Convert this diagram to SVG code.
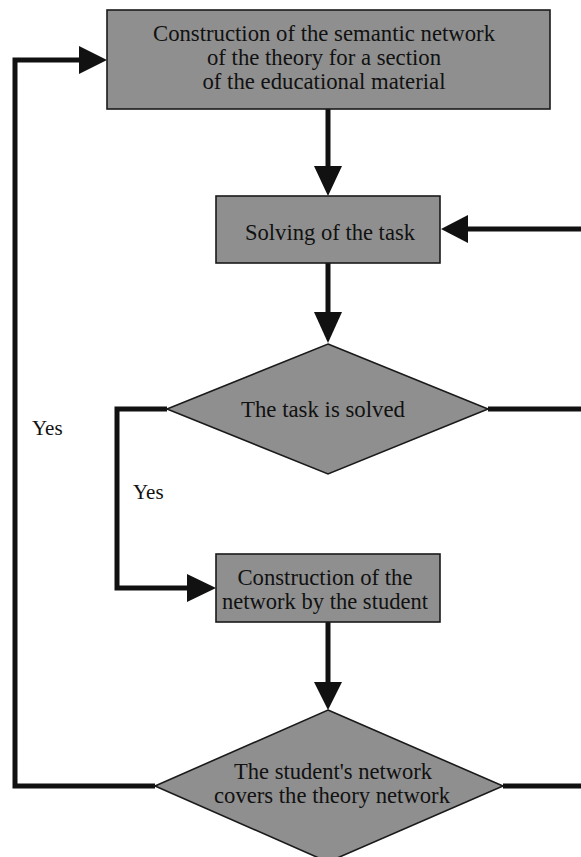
<svg xmlns="http://www.w3.org/2000/svg" width="581" height="857" viewBox="0 0 581 857">
  <style>
    .box { fill: #8f8f8f; stroke: #1a1a1a; stroke-width: 1.6; }
    .label { font-family: "Liberation Serif", "Times New Roman", serif; font-size: 23.5px; fill: #111; text-anchor: middle; }
    .yes { font-family: "Liberation Serif", "Times New Roman", serif; font-size: 21px; fill: #111; }
    .wire { fill: none; stroke: #111; stroke-width: 5; stroke-linejoin: miter; }
    .head { fill: #111; }
  </style>
  <rect width="581" height="857" fill="#ffffff"/>

  <!-- connectors -->
  <g id="connectors">
    <!-- theory construction -> solving -->
    <line class="wire" x1="328" y1="109" x2="328" y2="170"/>
    <polygon class="head" points="314,166 342,166 328,196"/>
    <!-- solving -> decision -->
    <line class="wire" x1="328" y1="263" x2="328" y2="316"/>
    <polygon class="head" points="314,312 342,312 328,343"/>
    <!-- loop back into solving from the right -->
    <polyline class="wire" points="581,229 464,229"/>
    <polygon class="head" points="468,215 468,243 441,229"/>
    <line class="wire" x1="488" y1="409" x2="581" y2="409"/>
    <!-- solved -> student construction -->
    <polyline class="wire" points="167,409 117,409 117,588 192,588"/>
    <polygon class="head" points="187,574 187,602 216,588"/>
    <!-- student construction -> coverage check -->
    <line class="wire" x1="328" y1="622" x2="328" y2="686"/>
    <polygon class="head" points="314,682 342,682 328,710"/>
    <!-- covered -> next section (back to top) -->
    <polyline class="wire" points="155,786 15,786 15,60 82,60"/>
    <polygon class="head" points="79,46 79,74 107,60"/>
    <line class="wire" x1="503" y1="786" x2="581" y2="786"/>
  </g>

  <g id="node-theory">
    <rect class="box" x="107" y="10" width="443" height="99"/>
    <text class="label" x="324" y="41" textLength="342" lengthAdjust="spacingAndGlyphs">Construction of the semantic network</text>
    <text class="label" x="324" y="65" textLength="234" lengthAdjust="spacingAndGlyphs">of the theory for a section</text>
    <text class="label" x="324" y="89" textLength="243" lengthAdjust="spacingAndGlyphs">of the educational material</text>
  </g>

  <g id="node-solving">
    <rect class="box" x="216" y="196" width="224" height="67"/>
    <text class="label" x="330" y="240" textLength="170" lengthAdjust="spacingAndGlyphs">Solving of the task</text>
  </g>

  <g id="node-solved">
    <polygon class="box" points="328,344 488,409 328,474 167,409"/>
    <text class="label" x="323" y="417" textLength="164" lengthAdjust="spacingAndGlyphs">The task is solved</text>
  </g>

  <g id="node-student">
    <rect class="box" x="216" y="554" width="224" height="68"/>
    <text class="label" x="325" y="585" textLength="175" lengthAdjust="spacingAndGlyphs">Construction of the</text>
    <text class="label" x="325" y="609" textLength="206" lengthAdjust="spacingAndGlyphs">network by the student</text>
  </g>

  <g id="node-covers">
    <polygon class="box" points="328,710 503,786 328,862 155,786"/>
    <text class="label" x="333" y="779" textLength="198" lengthAdjust="spacingAndGlyphs">The student's network</text>
    <text class="label" x="332" y="803" textLength="236" lengthAdjust="spacingAndGlyphs">covers the theory network</text>
  </g>

  <g id="labels">
    <text class="yes" x="32" y="435">Yes</text>
    <text class="yes" x="133" y="499">Yes</text>
  </g>
</svg>
